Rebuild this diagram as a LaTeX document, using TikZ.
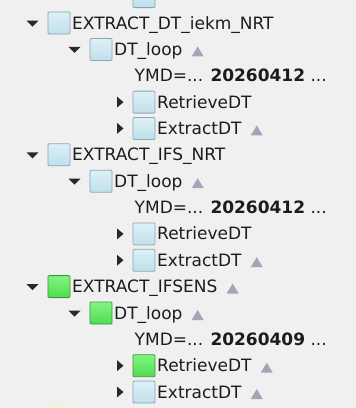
\documentclass[tikz,border=0pt]{standalone}
\usepackage{fontspec}
\setmainfont{DejaVu Sans}
\usetikzlibrary{calc}
\definecolor{bgc}{RGB}{240,240,240}
\definecolor{txt}{RGB}{28,28,28}
\definecolor{bluetop}{RGB}{222,240,246}
\definecolor{bluebot}{RGB}{190,224,236}
\definecolor{blueedge}{RGB}{140,165,178}
\definecolor{greentop}{RGB}{130,245,130}
\definecolor{greenbot}{RGB}{80,220,80}
\definecolor{greenedge}{RGB}{60,150,60}
\definecolor{markc}{RGB}{165,165,185}
\definecolor{expc}{RGB}{40,40,40}
\tikzset{
  bluebox/.style={rectangle, minimum size=22bp, inner sep=0pt, top color=bluetop, bottom color=bluebot, draw=blueedge, line width=0.8bp, rounded corners=1bp},
  greenbox/.style={rectangle, minimum size=22bp, inner sep=0pt, top color=greentop, bottom color=greenbot, draw=greenedge, line width=0.8bp, rounded corners=1bp},
  lbl/.style={anchor=base west, inner sep=0pt, text=txt, font=\fontsize{17bp}{20bp}\selectfont},
  expander/.style={fill=expc, draw=none},
  upmark/.style={fill=markc, draw=none}
}
% down expander at (x,y)
\newcommand{\expdown}[2]{\fill[expander] (#1-6,#2-2.5) -- (#1+6,#2-2.5) -- (#1,#2+3.5) -- cycle;}
\newcommand{\expright}[2]{\fill[expander] (#1-3,#2-5.5) -- (#1+3.5,#2) -- (#1-3,#2+5.5) -- cycle;}
\newcommand{\upmark}[1]{\fill[upmark] ([shift={(9,1)}]#1.base east) -- ++(12,0) -- ++(-6,-10) -- cycle;}
\begin{document}
\begin{tikzpicture}[x=1bp,y=-1bp]
\fill[bgc] (0,0) rectangle (356,408);
\useasboundingbox (0,0) rectangle (356,408);
% partial box at top (previous item)
\node[bluebox] (prevbox) at (144,-3.4) {};
% faint item at bottom
\fill[yellow!60!white, opacity=0.15] (48,404) rectangle (70,408);

% ---------- group 1 ----------
\expdown{32.5}{23}
\node[bluebox] (b1) at (59,23) {};
\node[lbl] (t1) at (72,29) {EXTRACT\_DT\_iekm\_NRT};

\expdown{74.5}{49.4}
\node[bluebox] (b2) at (101,49.4) {};
\node[lbl] (t2) at (114,55.4) {DT\_loop};
\upmark{t2}

\node[lbl] (t3) at (134.5,81.7) {YMD=... \textbf{20260412} ...};

\expright{120}{102.1}
\node[bluebox] (b4) at (144,102.1) {};
\node[lbl] (t4) at (157,108.1) {RetrieveDT};

\expright{120}{128.4}
\node[bluebox] (b5) at (144,128.4) {};
\node[lbl] (t5) at (157,134.4) {ExtractDT};
\upmark{t5}

% ---------- group 2 ----------
\expdown{32.5}{154.8}
\node[bluebox] (b6) at (59,154.8) {};
\node[lbl] (t6) at (72,160.8) {EXTRACT\_IFS\_NRT};

\expdown{74.5}{181.2}
\node[bluebox] (b7) at (101,181.2) {};
\node[lbl] (t7) at (114,187.2) {DT\_loop};
\upmark{t7}

\node[lbl] (t8) at (134.5,213.5) {YMD=... \textbf{20260412} ...};

\expright{120}{233.9}
\node[bluebox] (b9) at (144,233.9) {};
\node[lbl] (t9) at (157,239.9) {RetrieveDT};

\expright{120}{260.2}
\node[bluebox] (b10) at (144,260.2) {};
\node[lbl] (t10) at (157,266.2) {ExtractDT};
\upmark{t10}

% ---------- group 3 ----------
\expdown{32.5}{286.6}
\node[greenbox] (b11) at (59,286.6) {};
\node[lbl] (t11) at (72,292.6) {EXTRACT\_IFSENS};
\upmark{t11}

\expdown{74.5}{313}
\node[greenbox] (b12) at (101,313) {};
\node[lbl] (t12) at (114,319) {DT\_loop};
\upmark{t12}

\node[lbl] (t13) at (134.5,345.3) {YMD=... \textbf{20260409} ...};

\expright{120}{365.7}
\node[greenbox] (b14) at (144,365.7) {};
\node[lbl] (t14) at (157,371.7) {RetrieveDT};
\upmark{t14}

\expright{120}{392}
\node[bluebox] (b15) at (144,392) {};
\node[lbl] (t15) at (157,398) {ExtractDT};
\upmark{t15}
\end{tikzpicture}
\end{document}
